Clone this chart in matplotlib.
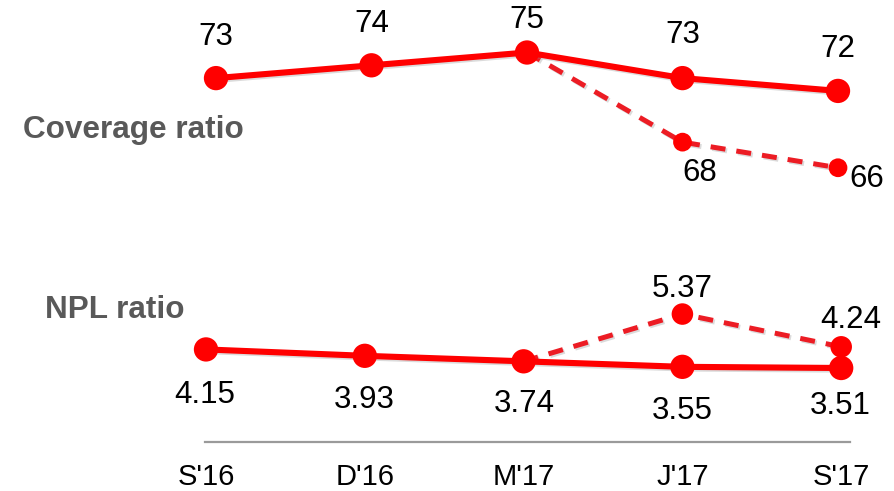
import numpy as np
import matplotlib
matplotlib.use("Agg")
from matplotlib import pyplot as plt
from matplotlib import patheffects as pe

plt.rcParams['font.family'] = ['Liberation Sans', 'DejaVu Sans']

periods = ["S'16", "D'16", "M'17", "J'17", "S'17"]

# coverage ratio, reported and adjusted from M'17 on
coverage = [73, 74, 75, 73, 72]
coverage_adj_idx = [2, 3, 4]
coverage_adj = [75, 68, 66]

# NPL ratio, reported and adjusted from M'17 on
npl = [4.15, 3.93, 3.74, 3.55, 3.51]
npl_adj_idx = [2, 3, 4]
npl_adj = [3.74, 5.37, 4.24]

RED = '#ff0000'
RED_DASH = '#ec1c24'
W, H = 895, 491

# label offsets in pixels (dx, dy up)
cov_off = [(0, 41), (0, 41), (0, 33), (0, 43), (0, 42)]
cov_adj_off = [None, (17, -31), (29, -11)]
npl_off = [(-1, -46), (-1, -44), (1, -43), (0, -44), (-1, -38)]
npl_adj_off = [None, (0, 25), (10, 27)]

shadow = [pe.SimpleLineShadow(offset=(1.2, -1.2), shadow_color='#888888', alpha=0.3), pe.Normal()]


def px2pt(d):
    return (d[0] * 0.72, d[1] * 0.72)


def label_points(ax, xs, vals, offs, fmt):
    for x, v, off in zip(xs, vals, offs):
        if off is None:
            continue
        ax.annotate(fmt.format(v), (x, v), xytext=px2pt(off), textcoords='offset points',
                    ha='center', va='center', fontsize=22.5, color='black')


fig = plt.figure(figsize=(W / 100, H / 100), dpi=100)

# top panel: coverage ratio
ax_top = fig.add_axes([0, 1 - 220 / H, 1, 220 / H])
ax_top.set_xlim(-216 / 155.5, (W - 216) / 155.5)
ax_top.set_ylim(61.92, 79.10)
ax_top.axis('off')

x = np.arange(len(periods))
ax_top.plot(coverage_adj_idx, coverage_adj, color=RED_DASH, lw=3.6, dashes=(3, 2.2),
            marker='o', markersize=13.5, markerfacecolor=RED, markeredgewidth=0,
            path_effects=shadow, zorder=2)
ax_top.plot(x, coverage, color=RED, lw=4.4, marker='o', markersize=17.5,
            markeredgewidth=0, path_effects=shadow, zorder=3)
label_points(ax_top, x, coverage, cov_off, '{:d}')
label_points(ax_top, coverage_adj_idx, coverage_adj, cov_adj_off, '{:d}')

# bottom panel: NPL ratio
ax_bot = fig.add_axes([0, 49 / H, 1, 182 / H])
ax_bot.set_xlim(-206 / 158.8, (W - 206) / 158.8)
ax_bot.set_ylim(0.958, 7.234)
for s in ax_bot.spines.values():
    s.set_visible(False)
ax_bot.set_yticks([])
ax_bot.set_xticks(x, periods)
ax_bot.tick_params(axis='x', length=0, pad=15, labelsize=21)
ax_bot.axhline(0.958, xmin=205 / W, xmax=850 / W, color='#9a9a9a', lw=1.6, clip_on=False)

ax_bot.plot(npl_adj_idx, npl_adj, color=RED_DASH, lw=3.6, dashes=(3, 2.2),
            marker='o', markersize=15.5, markerfacecolor=RED, markeredgewidth=0,
            path_effects=shadow, zorder=2)
ax_bot.plot(x, npl, color=RED, lw=4.4, marker='o', markersize=17.5,
            markeredgewidth=0, path_effects=shadow, zorder=3)
label_points(ax_bot, x, npl, npl_off, '{:.2f}')
label_points(ax_bot, npl_adj_idx, npl_adj, npl_adj_off, '{:.2f}')

fig.text(23 / W, 1 - 130 / H, 'Coverage ratio', ha='left', va='center',
         fontsize=22.7, fontweight='bold', color='#595959')
fig.text(45 / W, 1 - 310 / H, 'NPL ratio', ha='left', va='center',
         fontsize=22.7, fontweight='bold', color='#595959')

fig.savefig('out.png', dpi=100)
plt.close(fig)
